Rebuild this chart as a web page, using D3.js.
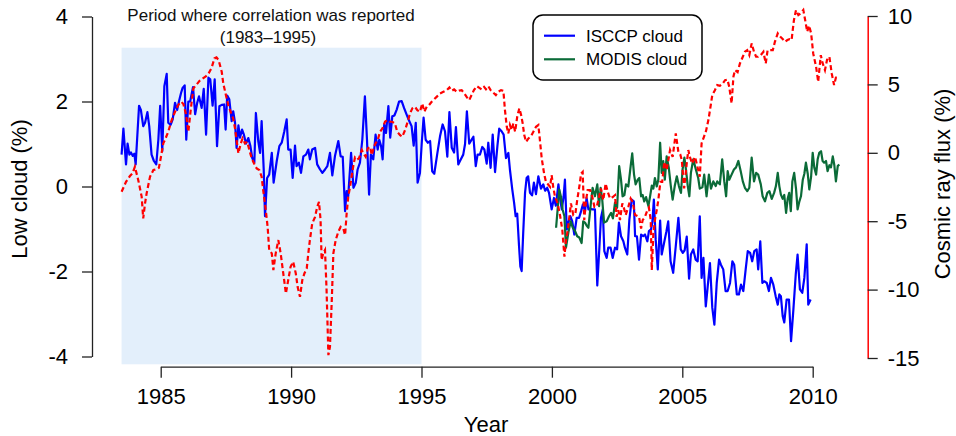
<!DOCTYPE html>
<html><head><meta charset="utf-8">
<script src="https://cdn.jsdelivr.net/npm/d3@7"></script>
<style>body{margin:0;background:#fff} text{font-family:"Liberation Sans",Arial,Helvetica,sans-serif}</style>
</head><body><svg id="c" width="956" height="436"></svg>
<script>
const xTicks=[1985,1990,1995,2000,2005,2010];
const leftTicks=[-4,-2,0,2,4];
const rightTicks=[-15,-10,-5,0,5,10];
const period=[1983.5,1995];
const titleLines=["Period where correlation was reported","(1983–1995)"];
const seriesNames=["ISCCP cloud","MODIS cloud"];
const isccp=[[1983.50,0.75],[1983.57,1.36],[1983.67,0.52],[1983.73,1.01],[1983.80,0.75],[1983.86,0.80],[1983.93,0.72],[1983.99,0.77],[1984.04,0.52],[1984.17,1.90],[1984.24,1.80],[1984.33,1.42],[1984.40,1.50],[1984.49,1.75],[1984.56,1.42],[1984.65,0.75],[1984.74,0.60],[1984.83,0.52],[1984.91,1.10],[1984.98,1.90],[1985.06,0.83],[1985.14,2.36],[1985.23,2.65],[1985.29,1.50],[1985.38,1.45],[1985.46,1.58],[1985.55,1.97],[1985.63,1.80],[1985.70,2.00],[1985.78,2.20],[1985.84,2.32],[1985.92,2.38],[1985.98,1.10],[1986.06,2.00],[1986.13,2.00],[1986.24,2.34],[1986.32,1.70],[1986.40,1.97],[1986.47,2.12],[1986.57,1.85],[1986.65,2.30],[1986.74,1.22],[1986.83,2.56],[1986.90,2.52],[1986.99,1.90],[1987.07,2.52],[1987.16,0.95],[1987.25,1.89],[1987.34,1.92],[1987.43,1.93],[1987.49,1.34],[1987.55,2.14],[1987.63,2.05],[1987.72,1.54],[1987.78,1.77],[1987.85,1.50],[1987.91,0.91],[1987.98,1.44],[1988.04,1.15],[1988.12,1.34],[1988.19,1.22],[1988.27,1.01],[1988.36,1.14],[1988.44,0.95],[1988.51,0.67],[1988.59,0.56],[1988.65,1.73],[1988.74,1.07],[1988.81,0.79],[1988.87,1.54],[1988.95,0.40],[1989.00,-0.70],[1989.08,0.20],[1989.16,0.28],[1989.26,0.79],[1989.33,0.09],[1989.45,0.60],[1989.55,0.95],[1989.64,1.03],[1989.74,1.30],[1989.83,1.58],[1989.89,0.87],[1989.98,0.87],[1990.06,0.20],[1990.15,0.96],[1990.21,0.48],[1990.30,0.56],[1990.38,0.32],[1990.47,0.71],[1990.57,0.75],[1990.66,0.87],[1990.72,0.64],[1990.81,0.87],[1990.92,0.91],[1991.00,0.52],[1991.11,0.40],[1991.20,0.32],[1991.30,0.40],[1991.39,0.48],[1991.49,0.79],[1991.58,0.26],[1991.68,0.71],[1991.81,1.07],[1991.90,0.71],[1991.98,0.70],[1992.07,-0.58],[1992.13,-0.11],[1992.19,-0.23],[1992.30,0.79],[1992.39,-0.03],[1992.48,0.09],[1992.55,0.40],[1992.64,0.56],[1992.73,1.10],[1992.83,2.12],[1992.91,1.10],[1992.99,-0.19],[1993.06,0.75],[1993.15,0.64],[1993.24,1.22],[1993.32,0.87],[1993.38,1.10],[1993.45,0.95],[1993.51,0.64],[1993.57,1.46],[1993.64,1.26],[1993.73,1.89],[1993.80,1.15],[1993.88,1.65],[1993.96,1.67],[1994.05,1.81],[1994.14,2.00],[1994.24,2.01],[1994.33,1.85],[1994.43,1.69],[1994.53,1.54],[1994.62,1.42],[1994.70,0.96],[1994.78,1.50],[1994.85,0.09],[1994.94,0.32],[1995.01,1.03],[1995.08,1.62],[1995.16,1.10],[1995.24,1.03],[1995.33,1.07],[1995.41,0.36],[1995.49,0.30],[1995.61,0.79],[1995.71,1.18],[1995.81,1.46],[1995.90,1.30],[1995.99,0.70],[1996.07,1.75],[1996.16,0.91],[1996.25,0.80],[1996.32,1.40],[1996.41,0.52],[1996.50,0.63],[1996.60,0.75],[1996.67,1.00],[1996.74,1.77],[1996.83,1.01],[1996.91,1.09],[1996.99,1.17],[1997.08,0.48],[1997.15,0.75],[1997.24,0.75],[1997.33,0.93],[1997.41,0.87],[1997.50,0.54],[1997.56,1.03],[1997.65,0.44],[1997.73,1.22],[1997.82,0.34],[1997.91,0.95],[1997.98,1.36],[1998.07,1.30],[1998.15,1.22],[1998.24,0.67],[1998.33,0.79],[1998.39,0.40],[1998.48,-0.07],[1998.55,-0.38],[1998.61,-0.70],[1998.67,-0.64],[1998.74,-1.40],[1998.79,-1.88],[1998.84,-1.99],[1998.90,-1.09],[1998.97,-0.15],[1999.03,0.20],[1999.09,0.24],[1999.16,-0.15],[1999.24,-0.21],[1999.31,0.09],[1999.39,-0.18],[1999.48,0.24],[1999.58,-0.05],[1999.67,0.05],[1999.74,-0.10],[1999.82,-0.03],[1999.89,-0.15],[1999.99,-0.54],[2000.08,-0.27],[2000.15,-0.45],[2000.25,0.05],[2000.31,-0.27],[2000.38,-0.54],[2000.45,-0.23],[2000.50,0.16],[2000.57,-1.01],[2000.63,-0.85],[2000.71,-0.70],[2000.78,-0.82],[2000.86,-1.13],[2000.95,-0.74],[2001.04,-0.74],[2001.12,-0.58],[2001.19,-0.42],[2001.27,-0.58],[2001.33,-0.27],[2001.40,-0.54],[2001.47,-0.52],[2001.55,-0.54],[2001.65,-0.54],[2001.74,-2.33],[2001.82,-1.44],[2001.88,-0.74],[2001.95,-0.54],[2002.01,-1.52],[2002.10,-1.68],[2002.16,-1.44],[2002.25,-1.44],[2002.33,-1.68],[2002.42,-1.44],[2002.50,-1.48],[2002.57,-0.85],[2002.65,-1.17],[2002.74,-1.29],[2002.80,-1.44],[2002.89,-1.60],[2002.97,-0.78],[2003.06,-0.31],[2003.14,-0.35],[2003.19,-1.17],[2003.26,-1.17],[2003.34,-1.72],[2003.42,-1.13],[2003.50,-1.17],[2003.57,-1.13],[2003.66,-1.29],[2003.72,-1.05],[2003.80,-1.01],[2003.85,-0.85],[2003.91,-0.31],[2003.98,-1.25],[2004.06,-1.95],[2004.15,-0.80],[2004.21,-1.60],[2004.31,-1.30],[2004.39,-1.06],[2004.46,-0.82],[2004.55,-1.76],[2004.65,-2.03],[2004.75,-1.40],[2004.85,-0.74],[2004.94,-1.48],[2005.02,-1.56],[2005.09,-1.50],[2005.17,-1.18],[2005.26,-2.17],[2005.33,-1.60],[2005.42,-1.48],[2005.51,-1.72],[2005.59,-1.76],[2005.67,-0.70],[2005.74,-2.15],[2005.81,-1.68],[2005.90,-2.82],[2005.97,-2.38],[2006.06,-1.80],[2006.15,-2.85],[2006.23,-3.25],[2006.32,-2.27],[2006.41,-1.72],[2006.48,-1.84],[2006.57,-1.95],[2006.66,-2.46],[2006.74,-2.46],[2006.83,-2.27],[2006.92,-1.76],[2006.99,-1.84],[2007.09,-2.54],[2007.17,-2.54],[2007.25,-2.31],[2007.34,-2.46],[2007.43,-1.95],[2007.51,-1.52],[2007.60,-1.56],[2007.68,-1.76],[2007.76,-1.52],[2007.85,-1.48],[2007.91,-1.95],[2007.99,-1.29],[2008.07,-2.27],[2008.14,-2.23],[2008.24,-2.27],[2008.32,-2.46],[2008.40,-2.15],[2008.49,-2.31],[2008.58,-2.58],[2008.66,-2.78],[2008.72,-2.54],[2008.78,-2.58],[2008.85,-3.05],[2008.91,-3.20],[2009.00,-2.66],[2009.09,-2.66],[2009.17,-3.64],[2009.26,-2.89],[2009.35,-2.07],[2009.42,-1.60],[2009.51,-2.42],[2009.60,-2.50],[2009.68,-2.15],[2009.77,-1.36],[2009.83,-2.78],[2009.92,-2.66]];
const modis=[[2000.16,-0.97],[2000.22,-0.54],[2000.28,-0.07],[2000.35,-0.25],[2000.41,-0.54],[2000.48,-0.70],[2000.54,-1.44],[2000.63,-1.09],[2000.72,-0.82],[2000.80,-0.97],[2000.89,-1.05],[2000.97,-1.17],[2001.05,-1.20],[2001.14,-1.33],[2001.20,-0.82],[2001.27,-0.85],[2001.33,-0.92],[2001.40,-0.97],[2001.49,-0.42],[2001.56,-0.03],[2001.65,-0.23],[2001.74,0.05],[2001.81,-0.46],[2001.87,-0.03],[2001.93,-0.31],[2002.00,-0.85],[2002.10,-0.82],[2002.19,-0.70],[2002.27,-0.62],[2002.34,-0.75],[2002.42,-0.38],[2002.50,-0.50],[2002.58,0.48],[2002.65,0.16],[2002.71,-0.23],[2002.78,-0.20],[2002.84,0.05],[2002.93,0.00],[2003.02,0.48],[2003.08,0.78],[2003.15,0.28],[2003.21,0.05],[2003.29,0.16],[2003.35,0.20],[2003.42,-0.23],[2003.48,-0.20],[2003.54,-0.35],[2003.61,-0.25],[2003.70,-0.46],[2003.76,-0.25],[2003.83,0.02],[2003.89,-0.05],[2003.95,0.20],[2004.02,0.00],[2004.08,0.16],[2004.15,1.03],[2004.21,0.32],[2004.27,0.60],[2004.33,0.16],[2004.40,0.71],[2004.48,0.45],[2004.56,0.01],[2004.63,-0.31],[2004.71,0.01],[2004.79,0.24],[2004.87,0.01],[2004.95,-0.15],[2005.01,0.40],[2005.08,0.68],[2005.14,0.40],[2005.21,0.01],[2005.27,-0.23],[2005.33,0.32],[2005.42,0.64],[2005.52,0.40],[2005.61,0.20],[2005.67,-0.05],[2005.77,-0.02],[2005.84,0.28],[2005.93,-0.23],[2006.02,0.28],[2006.10,-0.05],[2006.19,0.12],[2006.28,0.01],[2006.34,0.12],[2006.44,0.05],[2006.53,0.64],[2006.61,0.12],[2006.68,-0.23],[2006.74,0.36],[2006.80,0.16],[2006.89,0.28],[2006.98,0.40],[2007.06,0.45],[2007.15,0.60],[2007.24,0.36],[2007.32,0.12],[2007.40,-0.03],[2007.49,-0.11],[2007.57,-0.03],[2007.66,0.68],[2007.75,0.12],[2007.83,0.32],[2007.91,0.28],[2008.01,0.05],[2008.08,-0.23],[2008.17,-0.35],[2008.26,-0.15],[2008.34,-0.11],[2008.43,-0.29],[2008.52,-0.15],[2008.59,0.01],[2008.66,0.32],[2008.72,0.01],[2008.78,-0.19],[2008.85,-0.29],[2008.91,-0.20],[2008.98,-0.62],[2009.04,-0.29],[2009.10,-0.15],[2009.16,-0.58],[2009.22,0.12],[2009.29,0.32],[2009.36,-0.05],[2009.42,-0.54],[2009.49,-0.35],[2009.55,-0.23],[2009.62,0.16],[2009.68,0.30],[2009.74,0.56],[2009.81,0.30],[2009.87,-0.07],[2009.94,0.24],[2010.00,0.79],[2010.06,0.45],[2010.13,0.28],[2010.19,0.64],[2010.25,0.79],[2010.32,0.83],[2010.38,0.60],[2010.44,0.56],[2010.51,0.60],[2010.57,0.36],[2010.64,0.50],[2010.70,0.45],[2010.77,0.71],[2010.83,0.50],[2010.89,0.12],[2010.96,0.48],[2011.02,0.52]];
const cosmic=[[1983.50,-2.85],[1983.67,-2.12],[1983.82,-1.70],[1983.92,-1.50],[1984.01,-1.02],[1984.14,-2.00],[1984.27,-3.20],[1984.33,-4.80],[1984.40,-3.70],[1984.46,-2.97],[1984.59,-1.75],[1984.72,-1.26],[1984.85,-1.20],[1984.93,-1.10],[1985.01,-0.29],[1985.10,0.69],[1985.16,0.93],[1985.29,1.54],[1985.42,2.39],[1985.55,3.00],[1985.67,3.49],[1985.79,3.73],[1985.87,3.56],[1985.96,2.90],[1986.00,2.39],[1986.06,1.54],[1986.15,3.12],[1986.25,4.70],[1986.38,5.00],[1986.49,5.26],[1986.62,5.44],[1986.74,5.60],[1986.85,5.85],[1986.95,6.20],[1987.06,6.90],[1987.14,6.97],[1987.22,6.78],[1987.34,5.92],[1987.40,5.07],[1987.50,4.22],[1987.59,3.49],[1987.68,3.00],[1987.78,2.51],[1987.85,1.78],[1987.91,0.93],[1987.98,-0.04],[1988.07,0.69],[1988.14,1.05],[1988.23,0.69],[1988.32,0.80],[1988.40,0.20],[1988.49,-0.41],[1988.58,-0.78],[1988.68,-1.14],[1988.78,-1.26],[1988.87,-1.75],[1988.93,-2.73],[1989.03,-4.19],[1989.10,-5.41],[1989.16,-7.11],[1989.26,-7.35],[1989.32,-8.57],[1989.41,-7.35],[1989.51,-6.38],[1989.60,-7.35],[1989.70,-8.82],[1989.80,-10.28],[1989.89,-9.30],[1989.98,-8.33],[1990.08,-7.97],[1990.18,-8.82],[1990.25,-9.80],[1990.34,-10.53],[1990.43,-9.30],[1990.51,-8.82],[1990.60,-8.45],[1990.66,-7.35],[1990.72,-6.38],[1990.81,-5.16],[1990.92,-4.68],[1991.00,-3.95],[1991.07,-3.58],[1991.13,-4.92],[1991.17,-7.84],[1991.23,-7.35],[1991.30,-7.11],[1991.36,-10.04],[1991.43,-14.79],[1991.49,-14.18],[1991.56,-10.77],[1991.62,-7.35],[1991.71,-6.38],[1991.81,-5.77],[1991.90,-5.41],[1992.00,-5.53],[1992.07,-6.02],[1992.13,-4.43],[1992.19,-3.22],[1992.26,-2.49],[1992.32,-1.75],[1992.39,-0.90],[1992.45,-0.34],[1992.53,-0.50],[1992.60,-0.41],[1992.71,0.20],[1992.78,-0.04],[1992.86,-0.29],[1992.94,0.32],[1993.03,0.44],[1993.09,-0.17],[1993.18,0.44],[1993.24,0.69],[1993.32,0.93],[1993.41,1.54],[1993.50,1.78],[1993.60,2.27],[1993.69,2.39],[1993.79,2.27],[1993.88,2.27],[1993.98,2.15],[1994.07,1.54],[1994.18,1.29],[1994.26,1.17],[1994.37,1.66],[1994.47,2.27],[1994.56,2.88],[1994.65,3.25],[1994.75,3.36],[1994.84,3.12],[1994.94,3.00],[1995.03,3.61],[1995.11,3.00],[1995.20,3.36],[1995.29,3.49],[1995.39,3.73],[1995.45,3.85],[1995.58,4.09],[1995.71,4.34],[1995.84,4.46],[1995.97,4.58],[1996.07,4.78],[1996.16,4.53],[1996.25,4.63],[1996.35,4.46],[1996.45,4.55],[1996.54,4.58],[1996.64,4.34],[1996.73,4.09],[1996.83,3.85],[1996.92,4.22],[1997.01,4.58],[1997.12,4.87],[1997.22,4.75],[1997.31,4.63],[1997.40,4.82],[1997.47,4.65],[1997.56,4.87],[1997.65,4.58],[1997.75,4.40],[1997.85,4.22],[1997.94,4.46],[1998.05,4.58],[1998.14,4.53],[1998.20,3.12],[1998.27,1.90],[1998.33,1.42],[1998.39,2.03],[1998.46,1.66],[1998.52,2.15],[1998.59,1.54],[1998.67,2.63],[1998.75,3.25],[1998.82,2.76],[1998.88,2.15],[1998.94,1.29],[1999.01,0.80],[1999.10,1.05],[1999.20,1.22],[1999.29,1.54],[1999.39,1.90],[1999.48,2.03],[1999.54,0.93],[1999.61,-0.41],[1999.70,-1.51],[1999.77,-2.12],[1999.85,-2.30],[1999.93,-2.49],[1999.99,-1.63],[2000.05,-2.49],[2000.12,-3.22],[2000.22,-3.70],[2000.31,-4.55],[2000.40,-5.65],[2000.48,-7.60],[2000.54,-6.38],[2000.61,-5.65],[2000.67,-4.68],[2000.73,-3.70],[2000.82,-4.55],[2000.90,-4.45],[2000.97,-3.46],[2001.05,-2.49],[2001.12,-1.51],[2001.18,-1.39],[2001.24,-4.92],[2001.31,-3.46],[2001.37,-2.73],[2001.46,-2.73],[2001.55,-3.22],[2001.63,-3.95],[2001.72,-3.95],[2001.78,-3.46],[2001.88,-2.60],[2001.97,-3.46],[2002.06,-2.24],[2002.14,-2.85],[2002.23,-3.34],[2002.32,-3.25],[2002.42,-3.10],[2002.48,-4.68],[2002.55,-4.19],[2002.61,-4.92],[2002.70,-3.70],[2002.77,-4.10],[2002.83,-4.55],[2002.93,-3.95],[2003.02,-3.34],[2003.10,-3.60],[2003.19,-4.55],[2003.26,-4.60],[2003.34,-4.68],[2003.42,-5.53],[2003.48,-4.92],[2003.57,-4.68],[2003.66,-4.19],[2003.72,-4.00],[2003.79,-4.92],[2003.83,-8.57],[2003.89,-5.90],[2003.96,-4.80],[2004.02,-4.19],[2004.08,-3.46],[2004.16,-2.12],[2004.23,-2.12],[2004.31,-0.66],[2004.40,-1.26],[2004.53,0.20],[2004.63,-0.30],[2004.75,1.42],[2004.85,0.07],[2004.92,-0.10],[2004.98,-0.53],[2005.07,-2.60],[2005.17,-0.78],[2005.23,0.20],[2005.29,-0.30],[2005.38,-0.78],[2005.49,-0.30],[2005.55,-0.78],[2005.61,-1.26],[2005.67,-1.75],[2005.74,0.69],[2005.83,1.17],[2005.91,1.60],[2006.00,2.39],[2006.06,3.10],[2006.15,4.22],[2006.25,4.58],[2006.34,4.95],[2006.44,4.90],[2006.55,5.07],[2006.64,5.31],[2006.73,5.35],[2006.80,4.82],[2006.89,3.61],[2006.96,5.56],[2007.02,6.05],[2007.12,5.90],[2007.21,6.53],[2007.32,7.02],[2007.40,7.38],[2007.49,7.50],[2007.57,7.14],[2007.66,8.00],[2007.75,7.38],[2007.83,7.02],[2007.91,7.02],[2008.01,7.14],[2008.11,7.38],[2008.20,6.53],[2008.27,7.50],[2008.36,7.50],[2008.47,7.50],[2008.55,8.11],[2008.66,8.73],[2008.75,8.50],[2008.83,8.36],[2008.94,8.11],[2009.03,8.24],[2009.11,8.30],[2009.19,8.24],[2009.28,9.70],[2009.36,10.43],[2009.45,10.07],[2009.54,10.20],[2009.64,10.43],[2009.70,9.82],[2009.79,8.85],[2009.86,9.30],[2009.94,8.73],[2010.02,7.26],[2010.13,6.29],[2010.21,5.19],[2010.31,7.14],[2010.38,6.55],[2010.47,6.05],[2010.55,6.80],[2010.64,7.02],[2010.73,5.80],[2010.82,4.95],[2010.89,5.50],[2010.98,5.56]];

const svg=d3.select("#c");
const x=d3.scaleLinear().domain([1985,2010]).range([160.7,812.7]);
const yL=d3.scaleLinear().domain([-4,4]).range([356.5,16.5]);
const yR=d3.scaleLinear().domain([-15,10]).range([358,16]);
const axisCol="#222";

// shaded period
svg.append("rect").attr("x",x(period[0])).attr("y",47.7)
  .attr("width",x(period[1])-x(period[0])).attr("height",364.3-47.7)
  .attr("fill","#e3effb");

// title
const tt=svg.append("text").attr("text-anchor","middle").attr("font-size",17).attr("fill","#111");
tt.append("tspan").attr("x",271).attr("y",21).text(titleLines[0]);
tt.append("tspan").attr("x",268).attr("y",43).text(titleLines[1]);

// axes
const fmt=d=>String(d);
const gL=svg.append("g").attr("transform","translate(92,0)")
  .call(d3.axisLeft(yL).tickValues(leftTicks).tickFormat(fmt).tickSize(10).tickSizeOuter(0).tickPadding(14));
const gX=svg.append("g").attr("transform","translate(0,366.7)")
  .call(d3.axisBottom(x).tickValues(xTicks).tickFormat(fmt).tickSize(11).tickSizeOuter(0));
gX.selectAll(".tick text").attr("y",37.3).attr("dy",0);
const gR=svg.append("g").attr("transform","translate(867.7,0)")
  .call(d3.axisRight(yR).tickValues(rightTicks).tickFormat(fmt).tickSize(10).tickSizeOuter(0).tickPadding(10));
[gL,gX,gR].forEach(g=>{
  g.selectAll("text").attr("font-family","'Liberation Sans',Arial,sans-serif").attr("font-size",22).attr("fill","#000");
  g.selectAll("line").attr("stroke",axisCol).attr("stroke-width",1.3);
  g.select(".domain").attr("stroke",axisCol).attr("stroke-width",1.3);
});
gR.select(".domain").attr("stroke","#ff0000").attr("stroke-width",1.5);

// axis titles
svg.append("text").attr("transform","translate(27,189) rotate(-90)").attr("text-anchor","middle")
  .attr("font-size",22).attr("fill","#000").text("Low cloud (%)");
svg.append("text").attr("transform","translate(950,184) rotate(-90)").attr("text-anchor","middle")
  .attr("font-size",22).attr("fill","#000").text("Cosmic ray flux (%)");
svg.append("text").attr("x",486).attr("y",432).attr("text-anchor","middle")
  .attr("font-size",22).attr("fill","#000").text("Year");

// lines
const lineL=d3.line().x(d=>x(d[0])).y(d=>yL(d[1]));
const lineR=d3.line().x(d=>x(d[0])).y(d=>yR(d[1]));
svg.append("path").datum(isccp).attr("d",lineL).attr("fill","none")
  .attr("stroke","#0000ff").attr("stroke-width",2.2).attr("stroke-linejoin","round");
svg.append("path").datum(modis).attr("d",lineL).attr("fill","none")
  .attr("stroke","#0b6b38").attr("stroke-width",2.2).attr("stroke-linejoin","round");
svg.append("path").datum(cosmic).attr("d",lineR).attr("fill","none")
  .attr("stroke","#ff0000").attr("stroke-width",2.2).attr("stroke-dasharray","5,3");

// legend
const lg=svg.append("g");
lg.append("rect").attr("x",533).attr("y",15).attr("width",169).attr("height",65).attr("rx",10)
  .attr("fill","#fff").attr("stroke","#000").attr("stroke-width",1.5);
const legCols=["#0000ff","#0b6b38"];
seriesNames.forEach((n,i)=>{
  const yy=[35.7,59.3][i];
  lg.append("line").attr("x1",544).attr("x2",575).attr("y1",yy).attr("y2",yy)
    .attr("stroke",legCols[i]).attr("stroke-width",2.2);
  lg.append("text").attr("x",586).attr("y",yy+6).attr("font-size",17).attr("fill","#000").text(n);
});
</script></body></html>
